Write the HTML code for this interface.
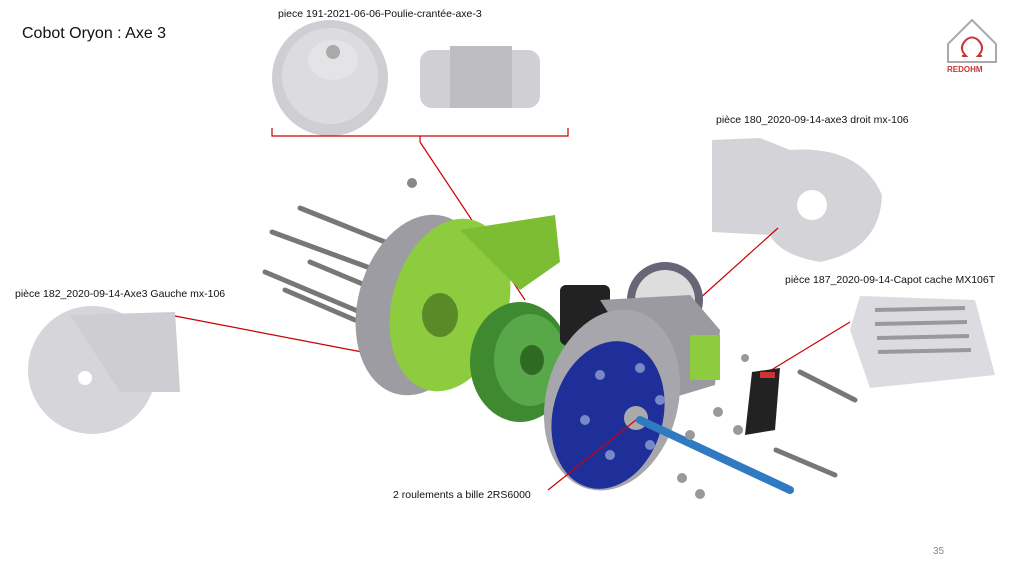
<!DOCTYPE html>
<html><head><meta charset="utf-8"><style>
html,body{margin:0;padding:0;background:#fff;}
svg{display:block;}
text{font-family:"Liberation Sans",sans-serif;}
</style></head><body>
<svg width="1024" height="576" viewBox="0 0 1024 576" xmlns="http://www.w3.org/2000/svg">
<rect width="1024" height="576" fill="#fff"/>
<text x="22" y="38" font-size="16" fill="#111">Cobot Oryon : Axe 3</text>
<text x="278" y="17" font-size="10.5" fill="#111">piece 191-2021-06-06-Poulie-crantée-axe-3</text>
<text x="716" y="123" font-size="10.5" fill="#111">pièce 180_2020-09-14-axe3 droit  mx-106</text>
<text x="785" y="283" font-size="10.5" fill="#111">pièce 187_2020-09-14-Capot cache MX106T</text>
<text x="15" y="297" font-size="10.5" fill="#111">pièce 182_2020-09-14-Axe3 Gauche mx-106</text>
<text x="393" y="498" font-size="10.5" fill="#111">2 roulements  a bille 2RS6000</text>
<text x="933" y="554" font-size="10" fill="#888">35</text>
<!-- logo -->
<g stroke="#c33" fill="none" stroke-width="2">
<path d="M948 44 L972 20 L996 44 L996 62 L948 62 Z" stroke="#aaa"/>
<path d="M962 56 L966 56 Q958 48 966 40 Q972 35 978 40 Q986 48 978 56 L982 56"/>
</g>
<text x="947" y="72" font-size="8" fill="#c33" font-weight="bold">REDOHM</text>
<!-- top pulley -->
<circle cx="330" cy="78" r="58" fill="#cfcfd3"/>
<circle cx="330" cy="76" r="48" fill="#dcdcdf"/>
<ellipse cx="333" cy="60" rx="25" ry="20" fill="#e4e4e6"/>
<circle cx="333" cy="52" r="7" fill="#aaa"/>
<rect x="420" y="50" width="120" height="58" rx="12" fill="#d0d0d4"/>
<rect x="450" y="46" width="62" height="62" fill="#bdbdc2"/>
<path d="M272 128 V136 H568 V128 M420 136 V142" stroke="#c00" fill="none" stroke-width="1.2"/>
<line x1="420" y1="142" x2="525" y2="300" stroke="#c00" stroke-width="1.2"/>
<!-- right part 180 -->
<path d="M712 140 L760 138 L790 150 Q860 145 882 195 Q880 250 820 262 Q780 255 770 235 L712 232 Z" fill="#d4d4d8"/>
<circle cx="812" cy="205" r="15" fill="#fff"/>
<line x1="778" y1="228" x2="698" y2="300" stroke="#c00" stroke-width="1.2"/>
<!-- capot 187 -->
<path d="M860 296 L975 300 L995 375 L870 388 L850 330 Z" fill="#dcdce0"/>
<g stroke="#999" stroke-width="4"><line x1="875" y1="310" x2="965" y2="308"/><line x1="875" y1="324" x2="967" y2="322"/><line x1="877" y1="338" x2="969" y2="336"/><line x1="878" y1="352" x2="971" y2="350"/></g>
<line x1="850" y1="322" x2="768" y2="372" stroke="#c00" stroke-width="1.2"/>
<!-- left part 182 -->
<circle cx="92" cy="370" r="64" fill="#d6d6da"/>
<path d="M70 315 L175 312 L180 392 L120 392 Z" fill="#cdcdd2"/>
<circle cx="85" cy="378" r="7" fill="#fff"/>
<line x1="175" y1="316" x2="362" y2="352" stroke="#c00" stroke-width="1.2"/>
<!-- bolts -->
<g stroke="#777" stroke-width="5" stroke-linecap="round">
<line x1="300" y1="208" x2="385" y2="242"/><line x1="272" y1="232" x2="370" y2="268"/>
<line x1="310" y1="262" x2="365" y2="285"/><line x1="265" y1="272" x2="360" y2="312"/>
<line x1="285" y1="290" x2="355" y2="320"/>
<line x1="800" y1="372" x2="855" y2="400"/><line x1="776" y1="450" x2="835" y2="475"/>
</g>
<circle cx="412" cy="183" r="5" fill="#888"/>
<!-- left housing -->
<ellipse cx="420" cy="305" rx="62" ry="92" fill="#9c9ca2" transform="rotate(15 420 305)"/>
<ellipse cx="450" cy="305" rx="58" ry="88" fill="#8ccc3e" transform="rotate(15 450 305)"/>
<path d="M460 230 L555 215 L560 262 L520 290 Z" fill="#7cbd34"/>
<ellipse cx="440" cy="315" rx="18" ry="22" fill="#5a8a28"/>
<!-- green gear -->
<ellipse cx="520" cy="362" rx="50" ry="60" fill="#3f8a30"/>
<ellipse cx="530" cy="360" rx="36" ry="46" fill="#58a84a"/>
<ellipse cx="532" cy="360" rx="12" ry="15" fill="#2f6a22"/>
<!-- motor -->
<rect x="560" y="285" width="50" height="60" rx="6" fill="#222"/>
<ellipse cx="665" cy="300" rx="38" ry="38" fill="#667" />
<ellipse cx="665" cy="300" rx="30" ry="30" fill="#ddd"/>
<!-- right housing -->
<path d="M600 300 L690 295 L720 330 L715 385 L665 400 Z" fill="#9a9aa0"/>
<rect x="690" y="335" width="30" height="45" fill="#8ccc3e"/>
<ellipse cx="612" cy="400" rx="66" ry="92" fill="#a6a6ac" transform="rotate(15 612 400)"/>
<ellipse cx="608" cy="415" rx="55" ry="75" fill="#1f2f9a" transform="rotate(15 608 415)"/>
<circle cx="636" cy="418" r="12" fill="#aaa"/>
<g fill="#7a88c8"><circle cx="600" cy="375" r="5"/><circle cx="640" cy="368" r="5"/><circle cx="660" cy="400" r="5"/><circle cx="610" cy="455" r="5"/><circle cx="585" cy="420" r="5"/><circle cx="650" cy="445" r="5"/></g>
<!-- shaft -->
<line x1="640" y1="420" x2="790" y2="490" stroke="#2f7ac0" stroke-width="8" stroke-linecap="round"/>
<!-- small black part -->
<path d="M752 372 L780 368 L775 430 L745 435 Z" fill="#222"/>
<rect x="760" y="372" width="15" height="6" fill="#c33"/>
<g fill="#999"><circle cx="718" cy="412" r="5"/><circle cx="738" cy="430" r="5"/><circle cx="690" cy="435" r="5"/><circle cx="682" cy="478" r="5"/><circle cx="700" cy="494" r="5"/><circle cx="745" cy="358" r="4"/></g>
<line x1="548" y1="490" x2="636" y2="420" stroke="#c00" stroke-width="1.2"/>
</svg>
</body></html>
